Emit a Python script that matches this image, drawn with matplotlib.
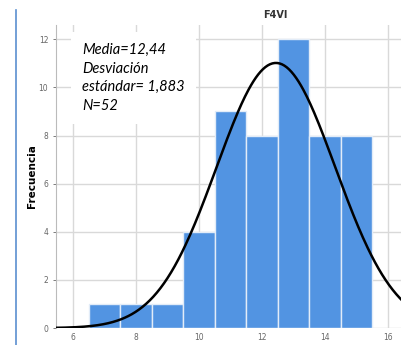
import numpy as np
import matplotlib.pyplot as plt
from matplotlib.lines import Line2D

# histogram bins (width 1) and frequencies
bin_left = [6.5, 7.5, 8.5, 9.5, 10.5, 11.5, 12.5, 13.5, 14.5]
freq = [1, 1, 1, 4, 9, 8, 12, 8, 8]
media = 12.44
desv = 1.883
n = 52
x_ticks = [6, 8, 10, 12, 14, 16]
y_ticks = [0, 2, 4, 6, 8, 10, 12]

fig = plt.figure(figsize=(4.02, 3.45), dpi=100)
ax = fig.add_axes([0.139, 0.049, 0.861, 0.879])

ax.bar(bin_left, freq, width=1.0, align='edge', color='#5294e2',
       edgecolor='#e2ecf8', linewidth=1.0, zorder=2)

# normal curve scaled to counts
xs = np.linspace(5.3, 16.6, 300)
ys = n * 1.0 / (desv * np.sqrt(2 * np.pi)) * np.exp(-0.5 * ((xs - media) / desv) ** 2)
ax.plot(xs, ys, color='black', lw=1.8, zorder=3)

ax.set_xlim(5.46, 16.44)
ax.set_ylim(0, 12.6)
ax.set_xticks(x_ticks)
ax.set_yticks(y_ticks)
ax.grid(True, color='#d9d9d9', lw=1.0, zorder=0)
ax.set_axisbelow(True)
ax.tick_params(labelsize=5.5, colors='#666666', length=2, width=0.6)
ax.tick_params(axis='x', length=0)
for s in ['top', 'right', 'bottom']:
    ax.spines[s].set_visible(False)
ax.spines['left'].set_color('#bbbbbb')

ax.set_title('F4VI', fontsize=7, fontweight='bold', color='#333333', pad=5, x=0.633)
ax.set_ylabel('Frecuencia', fontsize=7.5, fontweight='bold', labelpad=1)

fmt = lambda v, d: f'{v:.{d}f}'.replace('.', ',')
ax.text(0.075, 0.94,
        f'Media={fmt(media, 2)}\nDesviación\nestándar= {fmt(desv, 3)}\nN={n}',
        transform=ax.transAxes, ha='left', va='top', fontsize=10.5,
        family='Lato', style='italic', linespacing=1.42, zorder=4,
        bbox=dict(facecolor='white', edgecolor='none', pad=8))

# left border line
fig.add_artist(Line2D([0.04, 0.04], [0.0, 0.97], color='#5b8fd0', lw=1.2))

fig.savefig('out.png', dpi=100)
